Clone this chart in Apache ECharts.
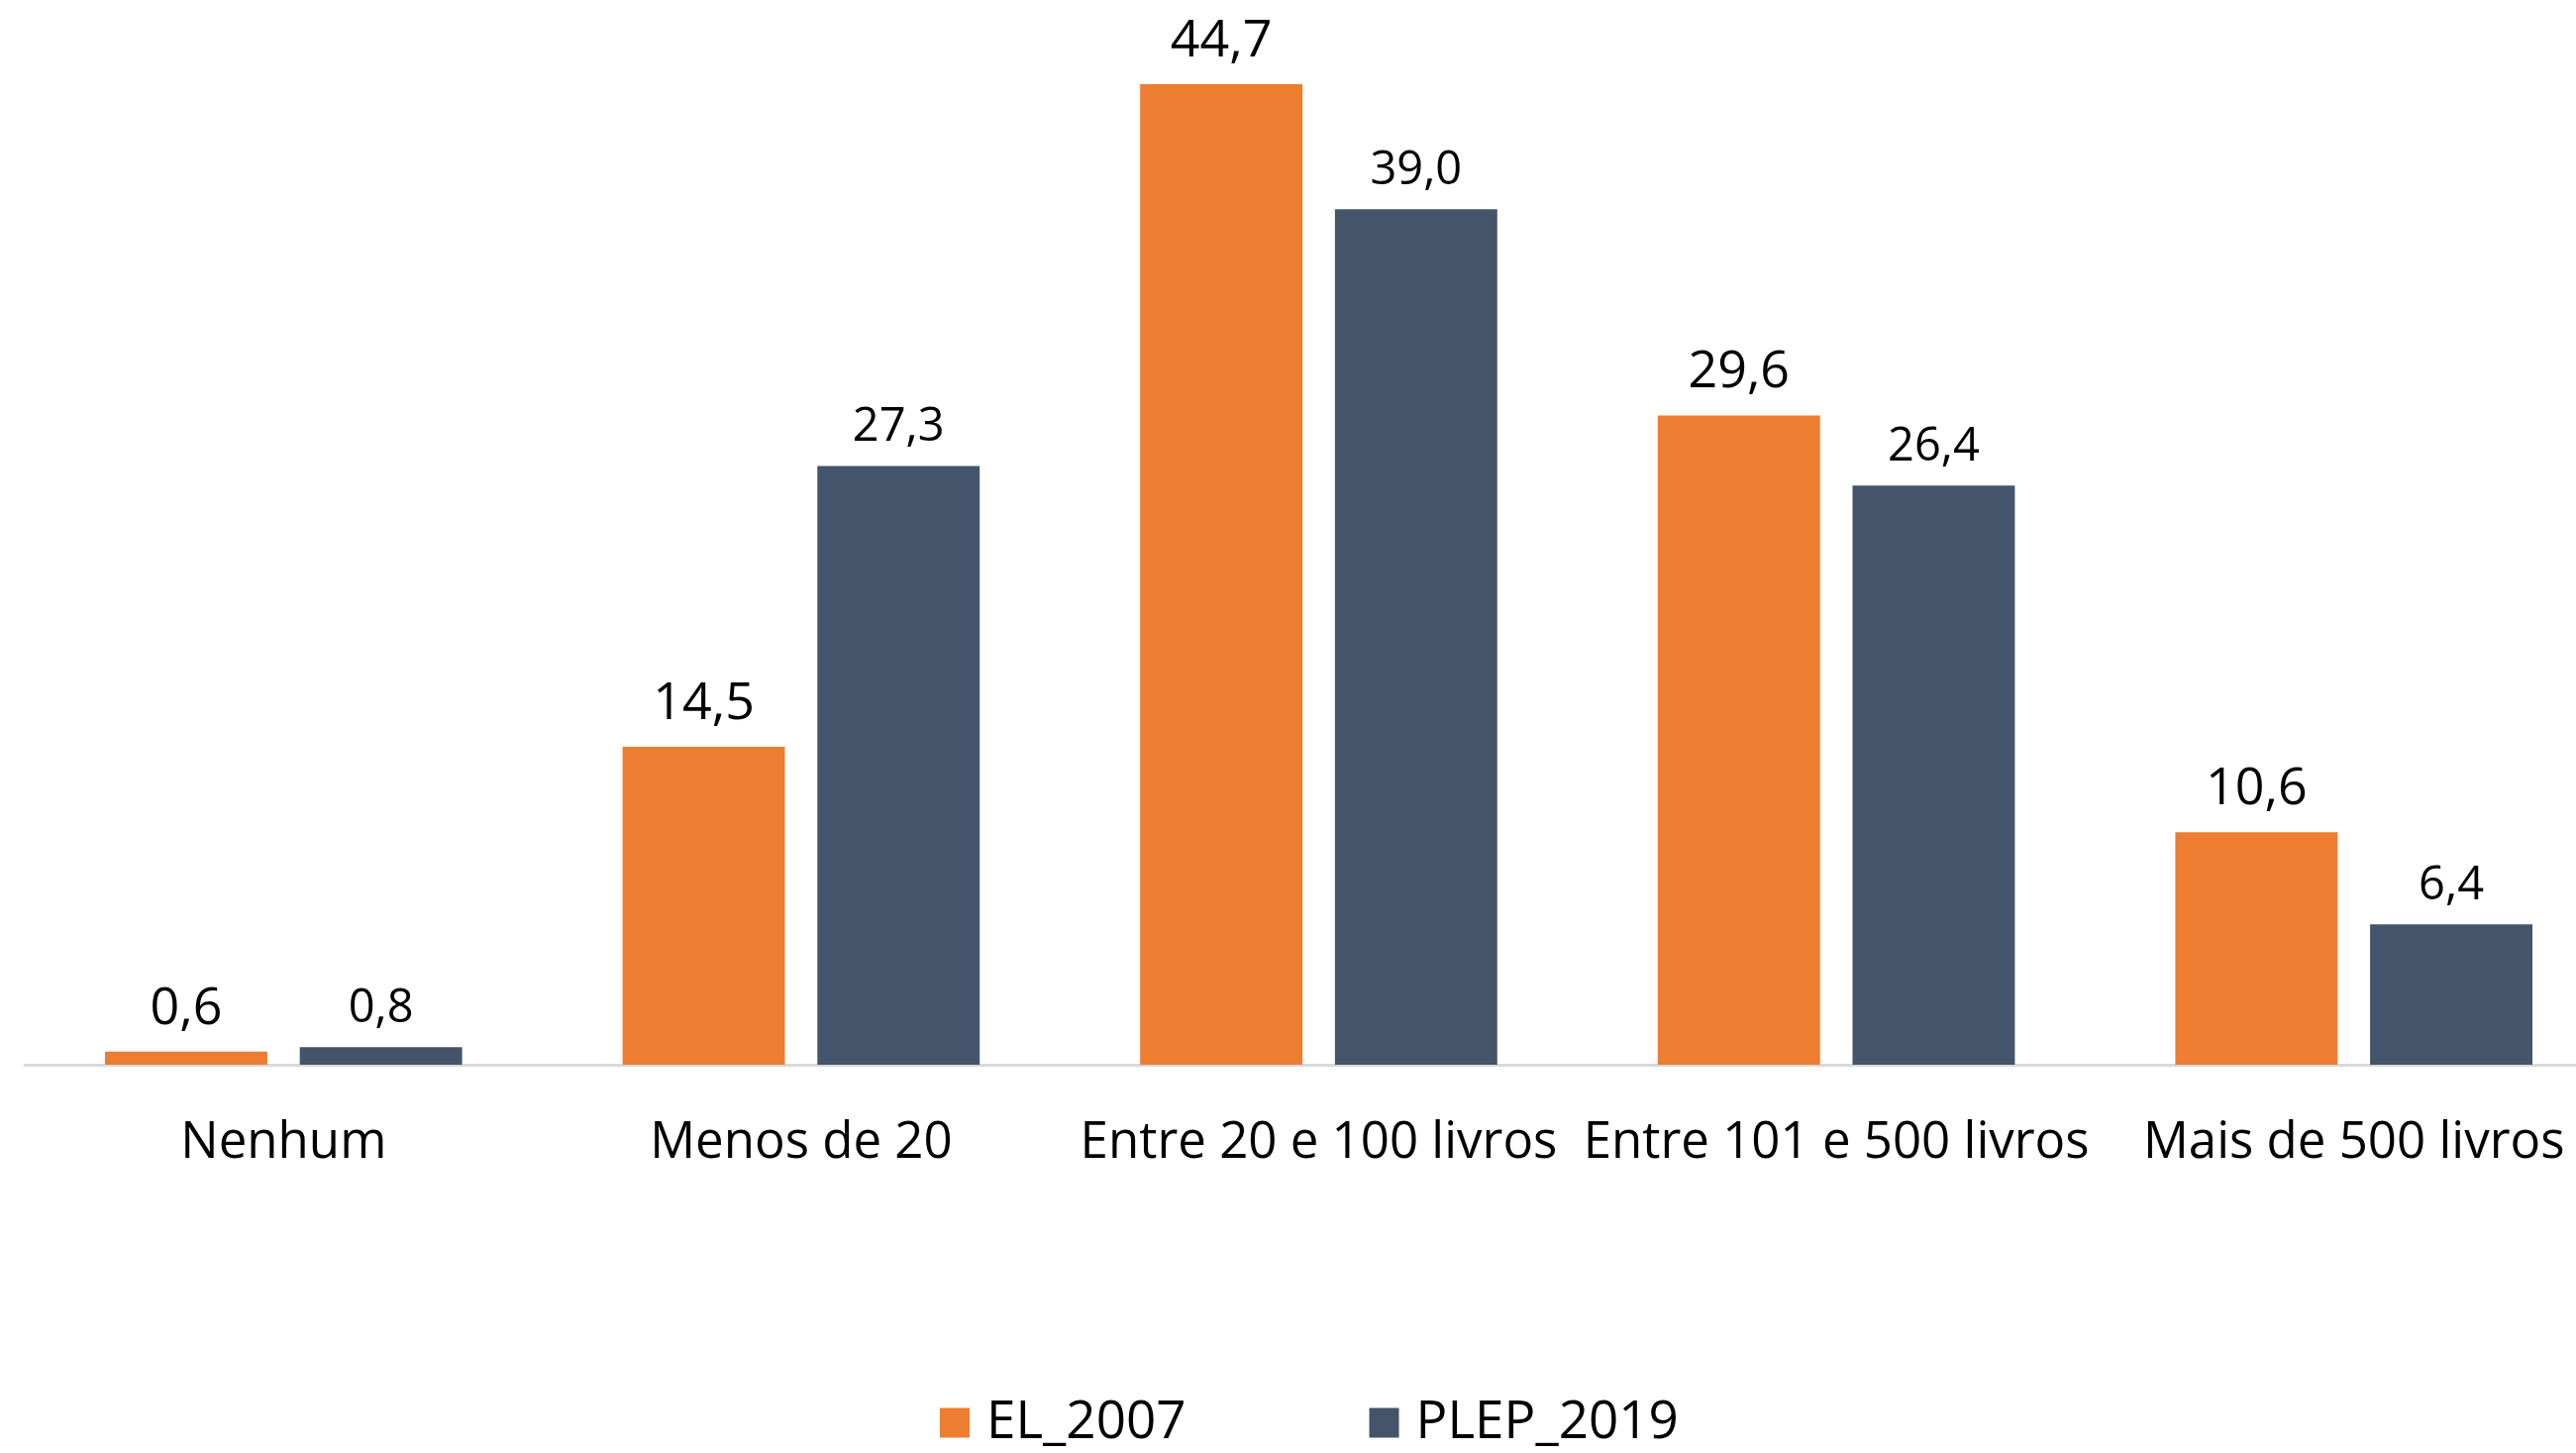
<!DOCTYPE html>
<html><head><meta charset="utf-8">
<script src="https://cdn.jsdelivr.net/npm/echarts@6/dist/echarts.min.js"></script>
<style>html,body{margin:0;padding:0;background:#fff}#c{width:2601px;height:1467px}</style>
</head><body><div id="c"></div>
<script>
const categories = ['Nenhum', 'Menos de 20', 'Entre 20 e 100 livros', 'Entre 101 e 500 livros', 'Mais de 500 livros'];
const seriesNames = ['EL_2007', 'PLEP_2019'];
const el2007 = [0.6, 14.5, 44.7, 29.6, 10.6];
const plep2019 = [0.8, 27.3, 39.0, 26.4, 6.4];
const colors = ['#ED7D31', '#44546A'];
const FONT = 'Open Sans';
const fmt = p => p.value.toFixed(1).replace('.', ',');
const chart = echarts.init(document.getElementById('c'));
chart.setOption({
  animation: false,
  textStyle: { fontFamily: FONT },
  grid: { left: 25, width: 2613, top: 12, bottom: 392, containLabel: false, outerBoundsMode: 'none' },
  legend: {
    data: seriesNames,
    left: 949, top: 1410, padding: 0,
    icon: 'rect', itemWidth: 30, itemHeight: 30, itemGap: 185,
    textStyle: { fontFamily: FONT, fontSize: 53, color: '#000', padding: [0, 0, 0, 12] }
  },
  xAxis: {
    type: 'category', data: categories,
    axisLine: { lineStyle: { color: '#d9d9d9', width: 3 } },
    axisTick: { show: false },
    axisLabel: { fontFamily: FONT, fontSize: 51, color: '#000', margin: 54, interval: 0 }
  },
  yAxis: { type: 'value', min: 0, max: 48, show: false, splitLine: { show: false } },
  series: [
    { name: seriesNames[0], type: 'bar', data: el2007, itemStyle: { color: colors[0] },
      barGap: '20%', barCategoryGap: '31%',
      label: { show: true, position: 'top', distance: 17, formatter: fmt, fontFamily: FONT, fontSize: 52, color: '#000' } },
    { name: seriesNames[1], type: 'bar', data: plep2019, itemStyle: { color: colors[1] },
      barGap: '20%', barCategoryGap: '31%',
      label: { show: true, position: 'top', distance: 15, formatter: fmt, fontFamily: FONT, fontSize: 47, color: '#000' } }
  ]
});
</script></body></html>
